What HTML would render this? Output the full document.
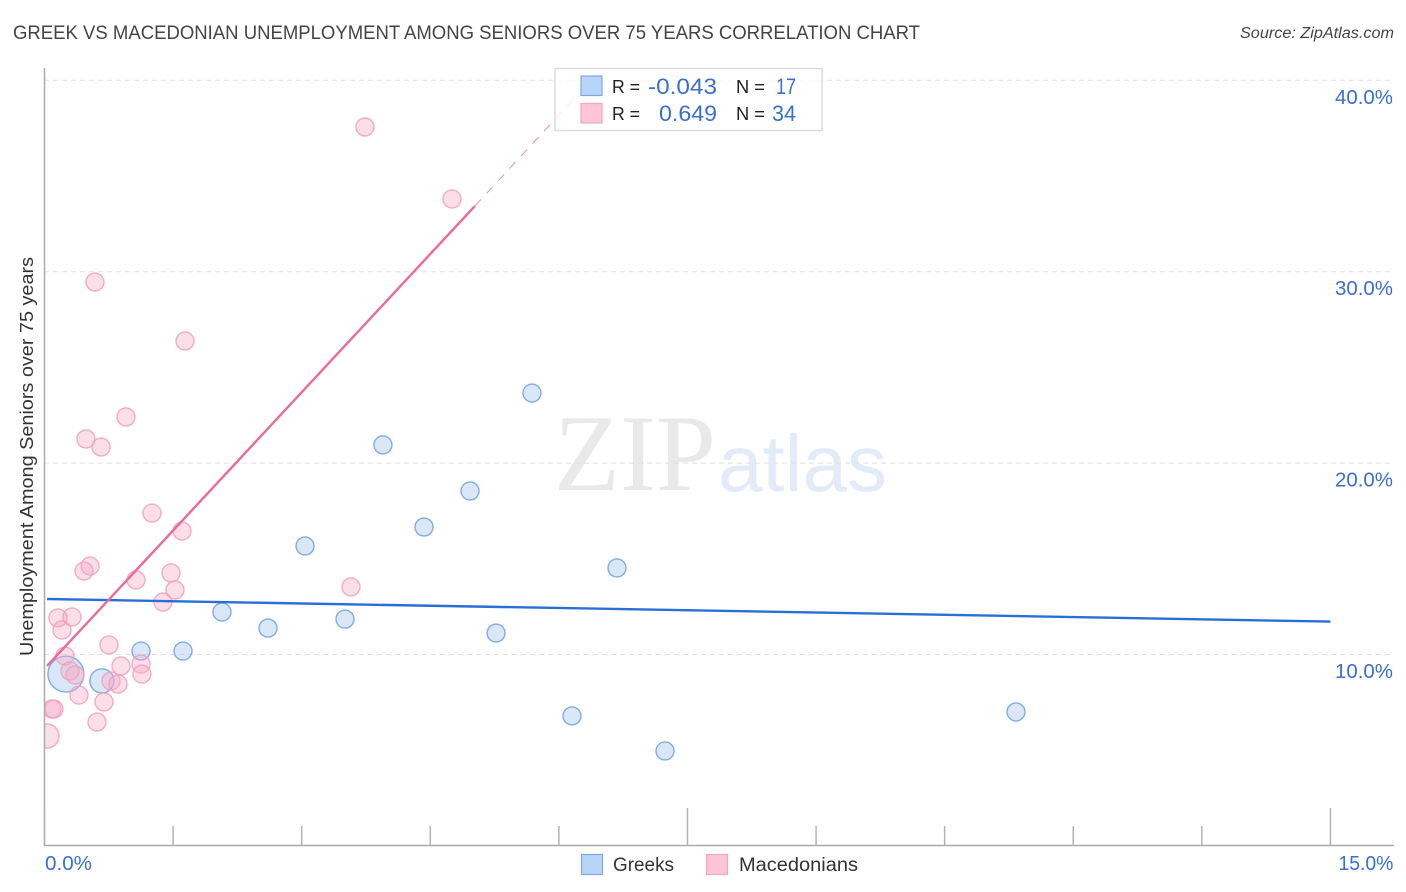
<!DOCTYPE html>
<html lang="en">
<head>
<meta charset="utf-8">
<title>Greek vs Macedonian Unemployment Among Seniors over 75 Years Correlation Chart</title>
<style>
html,body{margin:0;padding:0;background:#fff;width:1406px;height:892px;overflow:hidden}
svg{display:block;font-family:"Liberation Sans",sans-serif}
</style>
</head>
<body>
<svg id="chart" width="1406" height="892" viewBox="0 0 1406 892" xmlns="http://www.w3.org/2000/svg">
  <defs>
    <clipPath id="plot-clip"><rect x="45" y="60" width="1349" height="785"/></clipPath>
  </defs>
  <rect x="0" y="0" width="1406" height="892" fill="#fff"/>

  <g>
    <text x="554" y="490" font-family="'Liberation Serif',serif" font-size="109" fill="#e9e9e9" textLength="162" lengthAdjust="spacingAndGlyphs">ZIP</text>
    <text x="718" y="491" font-size="80" fill="#e3ebf8" textLength="169" lengthAdjust="spacingAndGlyphs">atlas</text>
  </g>

  <g id="grid"></g>
  <g id="series" clip-path="url(#plot-clip)"></g>
  <g id="axes"></g>

  <text x="13" y="39" font-size="19.5" fill="#444" textLength="907" lengthAdjust="spacingAndGlyphs">GREEK VS MACEDONIAN UNEMPLOYMENT AMONG SENIORS OVER 75 YEARS CORRELATION CHART</text>
  <text x="1394" y="38" font-size="15.5" font-style="italic" fill="#444" text-anchor="end" textLength="154" lengthAdjust="spacingAndGlyphs">Source: ZipAtlas.com</text>
  <text transform="translate(33,656) rotate(-90)" font-size="18.5" fill="#333" textLength="399" lengthAdjust="spacingAndGlyphs">Unemployment Among Seniors over 75 years</text>

  <g>
    <rect x="555" y="68.5" width="267" height="62" fill="#fff" fill-opacity="0.8" stroke="#dcdcdc" stroke-width="1.5"/>
    <rect x="581" y="76" width="21" height="19.5" fill="#b8d4f7" stroke="#7fa9e4" stroke-width="1.2"/>
    <rect x="581" y="103.5" width="21" height="19.5" fill="#fcc5d8" stroke="#f3a6c0" stroke-width="1.2"/>
    <text x="612" y="93" font-size="18.5" fill="#222" textLength="28" lengthAdjust="spacingAndGlyphs">R =</text>
    <text x="717" y="94" font-size="22" fill="#3a6fd0" text-anchor="end" textLength="69" lengthAdjust="spacingAndGlyphs">-0.043</text>
    <text x="736" y="93" font-size="18.5" fill="#222" textLength="29" lengthAdjust="spacingAndGlyphs">N =</text>
    <text x="796" y="94" font-size="22" fill="#3a6fd0" text-anchor="end" textLength="20" lengthAdjust="spacingAndGlyphs">17</text>
    <text x="612" y="120" font-size="18.5" fill="#222" textLength="28" lengthAdjust="spacingAndGlyphs">R =</text>
    <text x="717" y="121" font-size="22" fill="#3a6fd0" text-anchor="end" textLength="58" lengthAdjust="spacingAndGlyphs">0.649</text>
    <text x="736" y="120" font-size="18.5" fill="#222" textLength="29" lengthAdjust="spacingAndGlyphs">N =</text>
    <text x="796" y="121" font-size="22" fill="#3a6fd0" text-anchor="end" textLength="24" lengthAdjust="spacingAndGlyphs">34</text>
  </g>

  <g>
    <rect x="581.5" y="854.5" width="21" height="20" fill="#b8d4f7" stroke="#7fa9e4" stroke-width="1.2"/>
    <text x="613" y="871" font-size="19.5" fill="#333" textLength="61" lengthAdjust="spacingAndGlyphs">Greeks</text>
    <rect x="706.5" y="854.5" width="21" height="20" fill="#fcc5d8" stroke="#f3a6c0" stroke-width="1.2"/>
    <text x="739" y="871" font-size="19.5" fill="#333" textLength="119" lengthAdjust="spacingAndGlyphs">Macedonians</text>
  </g>
</svg>
<script>
const yTickValues = [10, 20, 30, 40];
const yTickLabels = ["10.0%", "20.0%", "30.0%", "40.0%"];
const xTickValues = [0, 1.5, 3, 4.5, 6, 7.5, 9, 10.5, 12, 13.5, 15];
const xMajorTicks = [0, 7.5, 15];
const xEdgeValues = [0, 15];
const xEdgeLabels = ["0.0%", "15.0%"];

const greekX = [0.25, 0.67, 1.126, 1.616, 2.07, 2.607, 3.039, 3.505, 3.948, 4.427, 4.963, 5.267, 5.686, 6.153, 6.678, 7.238, 11.332];
const greekY = [8.98, 8.62, 10.18, 10.18, 12.22, 11.38, 15.67, 11.85, 20.95, 16.66, 18.54, 11.12, 23.66, 6.79, 14.52, 4.96, 7.0];
const greekWeight = [4, 1.8, 1, 1, 1, 1, 1, 1, 1, 1, 1, 1, 1, 1, 1, 1, 1];

const macedonianX = [3.738, 4.753, 0.589, 1.639, 0.951, 0.484, 0.659, 1.254, 1.604, 0.531, 0.461, 1.476, 1.067, 1.522, 3.575, 1.382, 0.157, 0.321, 0.204, 0.752, 0.239, 1.126, 0.892, 1.137, 0.297, 0.356, 0.776, 0.857, 0.402, 0.694, 0.087, 0.111, 0.612, 0.029];
const macedonianY = [37.56, 33.8, 29.46, 26.38, 22.41, 21.26, 20.84, 17.39, 16.45, 14.62, 14.36, 14.26, 13.89, 13.37, 13.53, 12.74, 11.91, 11.96, 11.28, 10.5, 9.92, 9.5, 9.4, 8.98, 9.14, 8.93, 8.62, 8.46, 7.88, 7.52, 7.15, 7.15, 6.47, 5.74];
const macedonianWeight = [1, 1, 1, 1, 1, 1, 1, 1, 1, 1, 1, 1, 1, 1, 1, 1, 1, 1, 1, 1, 1, 1, 1, 1, 1, 1, 1, 1, 1, 1, 1, 1, 1, 1.8];

const greekTrendX = [0.03, 15];
const greekTrendY = [12.9, 11.72];
const macedonianTrendX = [0.03, 5.02];
const macedonianTrendY = [9.4, 33.43];
const macedonianForecastX = [5.02, 6.21];
const macedonianForecastY = [33.43, 39.2];

const NS = "http://www.w3.org/2000/svg";
function xScale(v) { return 44.5 + v * 85.73; }
function yScale(v) { return 654.5 - (v - 10) * 19.14; }
function rScale(w) { return 9 * Math.sqrt(w); }
function make(tag, attrs, parent) {
  const el = document.createElementNS(NS, tag);
  for (const k in attrs) el.setAttribute(k, attrs[k]);
  parent.appendChild(el);
  return el;
}

const grid = document.getElementById("grid");
const axes = document.getElementById("axes");
const series = document.getElementById("series");

yTickValues.forEach(function (v, i) {
  const line = make("line", { x1: 44, x2: 1394, y1: yScale(v), y2: yScale(v), stroke: "#e0e0e0", "stroke-width": 1, "stroke-dasharray": "5 4" }, grid);
  
  
  const label = make("text", { x: 1393, y: yScale(v) + 23.5, "font-size": 20, fill: "#3a6fd0", "text-anchor": "end", textLength: 58, lengthAdjust: "spacingAndGlyphs" }, axes);
  label.textContent = yTickLabels[i];
  
  
});

const yAxis = make("line", { x1: 44.5, x2: 44.5, y1: 68, y2: 846, stroke: "#aaa", "stroke-width": 1.5 }, axes);


const xAxis = make("line", { x1: 44, x2: 1394, y1: 845.5, y2: 845.5, stroke: "#aaa", "stroke-width": 1.5 }, axes);



xTickValues.forEach(function (v) {
  const top = xMajorTicks.indexOf(v) >= 0 ? 808 : 826;
  const tick = make("line", { x1: xScale(v), x2: xScale(v), y1: top, y2: 845, stroke: "#b4b4b4", "stroke-width": 1.5 }, axes);
  
  
});

xEdgeValues.forEach(function (v, i) {
  const isLast = i === xEdgeValues.length - 1;
  const label = make("text", {
    x: isLast ? xScale(v) + 63 : xScale(v) + 0.5,
    y: 870, "font-size": 20, fill: "#3a6fd0",
    "text-anchor": isLast ? "end" : "start",
    textLength: isLast ? 55 : 47, lengthAdjust: "spacingAndGlyphs"
  }, axes);
  label.textContent = xEdgeLabels[i];
  
  
});

function drawPoints(xs, ys, ws, fill, stroke, name) {
  xs.forEach(function (x, i) {
    const c = make("circle", {
      cx: xScale(x), cy: yScale(ys[i]), r: rScale(ws[i]),
      fill: fill, "fill-opacity": 0.38, stroke: stroke, "stroke-opacity": 0.85, "stroke-width": 1.4
    }, series);
    
    
  });
}
drawPoints(greekX, greekY, greekWeight, "#9cc0f0", "#6f9fe2", "greek-point");
drawPoints(macedonianX, macedonianY, macedonianWeight, "#f7a8c4", "#f0a0bc", "macedonian-point");

const greekTrend = make("line", { x1: xScale(greekTrendX[0]), y1: yScale(greekTrendY[0]), x2: xScale(greekTrendX[1]), y2: yScale(greekTrendY[1]), stroke: "#2a6fd6", "stroke-width": 2.4 }, series);


const macedonianTrend = make("line", { x1: xScale(macedonianTrendX[0]), y1: yScale(macedonianTrendY[0]), x2: xScale(macedonianTrendX[1]), y2: yScale(macedonianTrendY[1]), stroke: "#ec6a9a", "stroke-width": 2.4 }, series);


const macedonianForecast = make("line", { x1: xScale(macedonianForecastX[0]), y1: yScale(macedonianForecastY[0]), x2: xScale(macedonianForecastX[1]), y2: yScale(macedonianForecastY[1]), stroke: "#ec8fb0", "stroke-width": 1, "stroke-dasharray": "9 8" }, series);


</script>
</body>
</html>
